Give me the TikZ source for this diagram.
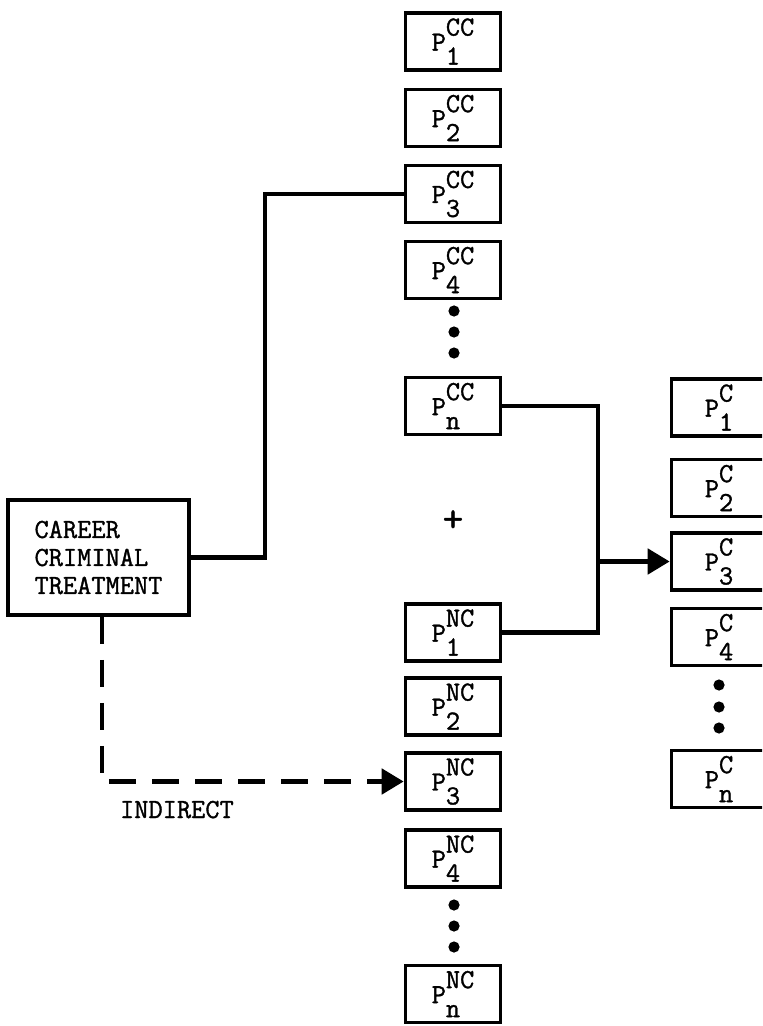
\documentclass[tikz,border=0pt]{standalone}
\usepackage{fontspec}
\setmonofont[FakeBold=1.2]{Latin Modern Mono}
\usepackage{tikz}
\usetikzlibrary{arrows.meta}

% P with a stacked super- and subscript, typewriter style
\newcommand{\pname}[2]{P\rlap{\raisebox{-7pt}{#2}}\raisebox{7.5pt}{#1}}

\begin{document}
\begin{tikzpicture}[x=0.5pt, y=-0.5pt, >={Triangle[length=11pt,width=12.5pt]},
    font=\ttfamily\fontsize{13.8}{14}\selectfont,
    pbox/.style={draw, line width=1.8pt, minimum width=47.5pt, minimum height=28.5pt, inner sep=0pt},
    conn/.style={line width=2.4pt}]
	\useasboundingbox (0,0) rectangle (762,1026);
	\clip (0,0) rectangle (762,1026);
	
	% treatment box
	\node[draw, line width=1.8pt, minimum width=90.5pt, minimum height=57.5pt, inner sep=0pt, align=left] (career) at (98.5,557.5) {CAREER\\CRIMINAL\\TREATMENT};
	
	% career criminal column
	\node[pbox] (cc1) at (453,41.5) {\pname{CC}{1}};
	\node[pbox] (cc2) at (453,118) {\pname{CC}{2}};
	\node[pbox] (cc3) at (453,194) {\pname{CC}{3}};
	\node[pbox] (cc4) at (453,270) {\pname{CC}{4}};
	\fill (454,311) circle (2.8pt) (454,332) circle (2.8pt) (454,353) circle (2.8pt);
	\node[pbox] (ccn) at (453,406) {\pname{CC}{n}};
	
	\node[font=\ttfamily\fontsize{20}{20}\selectfont] (plus) at (453,521) {+};
	
	% non career criminal column
	\node[pbox] (nc1) at (453,632.5) {\pname{NC}{1}};
	\node[pbox] (nc2) at (453,706.5) {\pname{NC}{2}};
	\node[pbox] (nc3) at (453,781.5) {\pname{NC}{3}};
	\node[pbox] (nc4) at (453,858.5) {\pname{NC}{4}};
	\fill (454,905) circle (2.8pt) (454,926) circle (2.8pt) (454,947) circle (2.8pt);
	\node[pbox] (ncn) at (453,994) {\pname{NC}{n}};
	
	% combined column
	\node[pbox] (c1) at (719,407.5) {\pname{C}{1}};
	\node[pbox] (c2) at (719,488) {\pname{C}{2}};
	\node[pbox] (c3) at (719,561.5) {\pname{C}{3}};
	\node[pbox] (c4) at (719,637) {\pname{C}{4}};
	\fill (719,685) circle (2.8pt) (719,707) circle (2.8pt) (719,728) circle (2.8pt);
	\node[pbox] (cn) at (719,779) {\pname{C}{n}};
	
	% connectors
	\coordinate (jl) at (265,557);
	\coordinate (jr) at (598,560);
	\coordinate (bend) at (102,787);
	\draw[conn] (career.east) -- (career.east -| jl) |- (cc3.west);
	\draw[conn] (ccn.east) -- (ccn.east -| jr) -- (nc1.east -| jr) -- (nc1.east);
	\draw[conn, ->] (jr |- c3.west) -- (c3.west);
	\draw[conn, ->, dash pattern=on 13.5pt off 8pt] (career.south -| bend) |- (nc3.west);
	\node[anchor=base west] (indirect) at (113,818) {INDIRECT};
\end{tikzpicture}
\end{document}
